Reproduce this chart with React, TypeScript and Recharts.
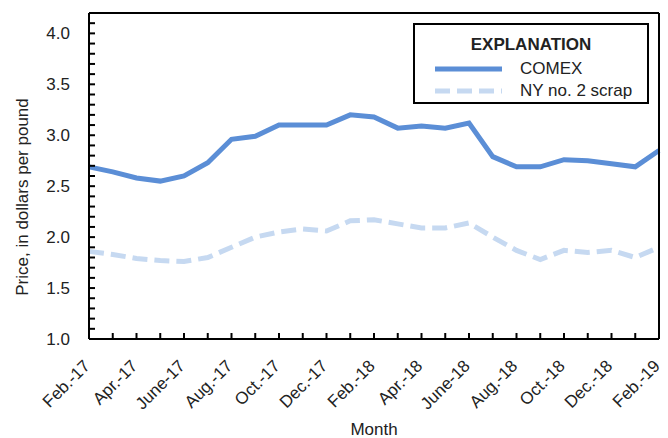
import React from 'react';
import { LineChart, Line, XAxis, YAxis, Legend } from 'recharts';

const months = [
  'Feb.-17', 'Mar.-17', 'Apr.-17', 'May-17', 'June-17', 'July-17', 'Aug.-17', 'Sept.-17',
  'Oct.-17', 'Nov.-17', 'Dec.-17', 'Jan.-18', 'Feb.-18', 'Mar.-18', 'Apr.-18', 'May-18',
  'June-18', 'July-18', 'Aug.-18', 'Sept.-18', 'Oct.-18', 'Nov.-18', 'Dec.-18', 'Jan.-19', 'Feb.-19',
];
const comex = [
  2.69, 2.64, 2.58, 2.55, 2.6, 2.73, 2.96, 2.99, 3.1, 3.1, 3.1, 3.2, 3.18,
  3.07, 3.09, 3.07, 3.12, 2.79, 2.69, 2.69, 2.76, 2.75, 2.72, 2.69, 2.85,
];
const nyScrap = [
  1.86, 1.83, 1.79, 1.77, 1.76, 1.8, 1.9, 2.0, 2.05, 2.08, 2.06, 2.16, 2.17,
  2.13, 2.09, 2.09, 2.14, 2.0, 1.87, 1.78, 1.87, 1.85, 1.87, 1.8, 1.9,
];
const yTicks = [
  1.0, 1.1, 1.2, 1.3, 1.4, 1.5, 1.6, 1.7, 1.8, 1.9, 2.0, 2.1, 2.2, 2.3, 2.4, 2.5, 2.6,
  2.7, 2.8, 2.9, 3.0, 3.1, 3.2, 3.3, 3.4, 3.5, 3.6, 3.7, 3.8, 3.9, 4.0, 4.1, 4.2,
];
const yLabels = ['1.0', '1.5', '2.0', '2.5', '3.0', '3.5', '4.0'];

const data = months.map((m, i) => ({ month: m, comex: comex[i], ny: nyScrap[i] }));

const FONT = "'Liberation Sans', Arial, sans-serif";
const BLUE = '#5b8ed6';
const LIGHT = '#c6d9f1';

const YTick = (props: any) => {
  const label = Number(props.payload.value).toFixed(1);
  if (!yLabels.includes(label)) return null;
  return (
    <text x={props.x} y={props.y} dy="0.36em" textAnchor="end" fontSize={17} fontFamily={FONT} fill="#222">
      {label}
    </text>
  );
};

const XTick = (props: any) => {
  if (props.index % 2 !== 0) return null;
  const x = props.x + 2;
  const y = 367;
  return (
    <text x={x} y={y} textAnchor="end" fontSize={17} fontFamily={FONT} fill="#222" transform={`rotate(-45, ${x}, ${y})`}>
      {props.payload.value}
    </text>
  );
};

const LegendBox = () => (
  <div
    style={{
      position: 'relative', width: 236, height: 81, border: '2px solid #000', boxSizing: 'border-box',
      background: '#fff', fontFamily: FONT, fontSize: 17, color: '#222',
    }}
  >
    <div style={{ position: 'absolute', top: 10, left: 0, width: '100%', textAlign: 'center', fontWeight: 'bold', lineHeight: '20px' }}>
      EXPLANATION
    </div>
    <svg style={{ position: 'absolute', left: 20, top: 38 }} width={70} height={32}>
      <line x1={0} y1={6} x2={67} y2={6} stroke={BLUE} strokeWidth={5} />
      <line x1={0} y1={28} x2={67} y2={28} stroke={LIGHT} strokeWidth={5} strokeDasharray="15 7" />
    </svg>
    <div style={{ position: 'absolute', left: 105, top: 34, lineHeight: '20px' }}>COMEX</div>
    <div style={{ position: 'absolute', left: 105, top: 56, lineHeight: '20px' }}>NY no. 2 scrap</div>
  </div>
);

export default function App() {
  return (
    <div style={{ position: 'absolute', left: 0, top: 0, width: 668, height: 438, background: '#fff' }}>
      <LineChart width={668} height={438} data={data} margin={{ top: 12, right: 8, left: 0, bottom: 0 }}>
        <XAxis
          xAxisId="b"
          dataKey="month"
          interval={0}
          height={99}
          axisLine={{ stroke: '#000', strokeWidth: 2 }}
          tickLine={{ stroke: '#000', strokeWidth: 2 }}
          tickSize={-6}
          tick={<XTick />}
          label={{ value: 'Month', position: 'insideBottom', offset: 3, fontSize: 17, fontFamily: FONT, fill: '#222' }}
        />
        <XAxis
          xAxisId="t"
          dataKey="month"
          orientation="top"
          interval={0}
          height={1}
          axisLine={{ stroke: '#000', strokeWidth: 2 }}
          tickLine={{ stroke: '#000', strokeWidth: 2 }}
          tickSize={-6}
          tick={false}
        />
        <YAxis
          yAxisId="l"
          domain={[1, 4.2]}
          ticks={yTicks}
          interval={0}
          width={89}
          axisLine={{ stroke: '#000', strokeWidth: 2 }}
          tickLine={{ stroke: '#000', strokeWidth: 2 }}
          tickSize={-6}
          tickMargin={25}
          tick={<YTick />}
          label={() => (
            <text x={28} y={197} textAnchor="middle" fontSize={17} fontFamily={FONT} fill="#222" transform="rotate(-90, 28, 197)">
              Price, in dollars per pound
            </text>
          )}
        />
        <YAxis
          yAxisId="r"
          orientation="right"
          domain={[1, 4.2]}
          ticks={yTicks}
          interval={0}
          width={1}
          axisLine={{ stroke: '#000', strokeWidth: 2 }}
          tickLine={{ stroke: '#000', strokeWidth: 2 }}
          tickSize={-6}
          tick={false}
        />
        <Legend
          layout="vertical"
          align="center"
          verticalAlign="middle"
          content={<LegendBox />}
          wrapperStyle={{ position: 'absolute', left: 413, top: 23, width: 236, height: 81 }}
        />
        <Line
          xAxisId="b"
          yAxisId="l"
          dataKey="ny"
          stroke={LIGHT}
          strokeWidth={5}
          strokeDasharray="15 7"
          dot={false}
          isAnimationActive={false}
        />
        <Line
          xAxisId="b"
          yAxisId="l"
          dataKey="comex"
          stroke={BLUE}
          strokeWidth={5}
          dot={false}
          isAnimationActive={false}
        />
      </LineChart>
    </div>
  );
}
